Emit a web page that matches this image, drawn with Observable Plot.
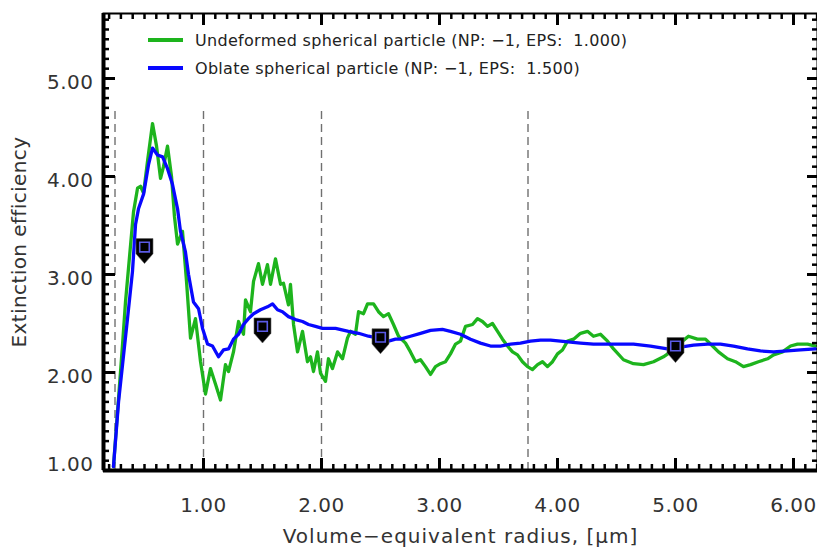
<!DOCTYPE html>
<html>
<head>
<meta charset="utf-8">
<script src="https://cdn.jsdelivr.net/npm/d3@7"></script>
<script src="https://cdn.jsdelivr.net/npm/@observablehq/plot@0.6"></script>
<style>
  html, body { margin: 0; padding: 0; background: #fff; overflow: hidden; }
  #wrap { position: relative; width: 817px; height: 553px; }
  #legend { position: absolute; left: 148px; top: 26px; font-family: "DejaVu Sans", sans-serif; font-size: 16px; color: #222; letter-spacing: 0.3px; }
  .row { display: flex; align-items: center; height: 28px; white-space: pre; }
  .swatch { width: 35px; height: 3.5px; margin-right: 12px; }
</style>
</head>
<body>
<div id="wrap"></div>
<script>
// ---- data ----
const seriesNames = [
  "Undeformed spherical particle (NP: \u22121, EPS:  1.000)",
  "Oblate spherical particle (NP: \u22121, EPS:  1.500)"
];
const seriesColors = ["#1db41d", "#0808ff"];

const greenX = [0.237,0.314,0.339,0.407,0.441,0.466,0.492,0.525,0.568,0.602,0.636,0.661,0.695,0.729,0.754,0.780,0.822,0.856,0.890,0.932,0.975,1.017,1.059,1.102,1.144,1.186,1.212,1.254,1.297,1.339,1.356,1.398,1.424,1.466,1.500,1.542,1.568,1.610,1.653,1.678,1.720,1.737,1.763,1.797,1.839,1.881,1.907,1.932,1.966,1.992,2.034,2.059,2.093,2.136,2.178,2.220,2.246,2.288,2.314,2.356,2.390,2.441,2.483,2.525,2.568,2.610,2.653,2.712,2.754,2.797,2.839,2.881,2.924,2.966,3.008,3.051,3.093,3.136,3.178,3.220,3.280,3.322,3.364,3.407,3.449,3.492,3.534,3.576,3.619,3.661,3.703,3.746,3.788,3.831,3.873,3.915,3.958,4.000,4.042,4.085,4.136,4.195,4.254,4.305,4.364,4.424,4.475,4.559,4.644,4.729,4.814,4.898,4.958,5.017,5.059,5.110,5.186,5.254,5.314,5.364,5.441,5.508,5.576,5.636,5.703,5.780,5.831,5.907,5.975,6.034,6.119,6.186];
const greenY = [1.04,2.29,2.72,3.64,3.88,3.90,3.83,4.15,4.54,4.31,3.98,4.10,4.31,4.00,3.59,3.31,3.44,2.93,2.35,2.55,2.11,1.78,2.04,1.88,1.72,2.08,2.01,2.21,2.52,2.39,2.74,2.62,2.93,3.11,2.90,3.10,2.90,3.16,2.90,2.91,2.69,2.90,2.49,2.21,2.42,2.11,2.16,2.01,2.21,1.99,1.91,2.14,2.04,2.21,2.14,2.35,2.42,2.39,2.62,2.60,2.70,2.70,2.62,2.57,2.60,2.49,2.37,2.30,2.21,2.11,2.13,2.06,1.98,2.06,2.09,2.11,2.19,2.29,2.32,2.47,2.49,2.55,2.52,2.47,2.50,2.42,2.34,2.27,2.21,2.18,2.11,2.06,2.03,2.08,2.11,2.06,2.11,2.19,2.23,2.32,2.34,2.40,2.42,2.37,2.39,2.32,2.24,2.13,2.09,2.08,2.11,2.16,2.21,2.29,2.32,2.37,2.34,2.34,2.27,2.21,2.14,2.11,2.06,2.08,2.11,2.14,2.18,2.21,2.27,2.29,2.29,2.27];

const blueX = [0.237,0.280,0.314,0.356,0.398,0.424,0.449,0.492,0.534,0.568,0.610,0.653,0.695,0.737,0.780,0.805,0.847,0.873,0.915,0.958,0.992,1.034,1.076,1.127,1.169,1.212,1.254,1.297,1.339,1.381,1.424,1.483,1.542,1.585,1.627,1.669,1.720,1.780,1.839,1.890,1.949,2.008,2.119,2.229,2.314,2.398,2.483,2.568,2.627,2.669,2.754,2.839,2.924,3.025,3.093,3.178,3.263,3.347,3.432,3.517,3.602,3.686,3.771,3.856,3.941,4.025,4.110,4.195,4.305,4.424,4.508,4.644,4.788,4.932,5.042,5.153,5.271,5.381,5.492,5.610,5.720,5.831,5.949,6.059,6.186];
const blueY = [1.04,1.70,2.08,2.55,3.03,3.51,3.67,3.82,4.12,4.29,4.22,4.20,4.08,3.92,3.67,3.44,3.23,3.00,2.72,2.65,2.45,2.29,2.27,2.16,2.23,2.24,2.34,2.39,2.49,2.55,2.60,2.64,2.67,2.70,2.64,2.62,2.57,2.54,2.52,2.49,2.47,2.45,2.45,2.42,2.40,2.37,2.35,2.32,2.34,2.34,2.37,2.40,2.43,2.44,2.42,2.39,2.34,2.30,2.27,2.27,2.29,2.30,2.32,2.33,2.33,2.32,2.31,2.30,2.29,2.29,2.29,2.29,2.27,2.24,2.26,2.28,2.29,2.29,2.27,2.24,2.22,2.21,2.22,2.23,2.24];

const markerX = [0.5, 1.5, 2.5, 5.0];
const markerY = [3.28, 2.47, 2.36, 2.27];

const dashX = [0.25, 1.0, 2.0, 3.75];
const dashTop = 4.71;

const xTickValues = [1, 2, 3, 4, 5, 6];
const yTickValues = [1, 2, 3, 4, 5];
const xTitle = "Volume\u2212equivalent radius, [\u03BCm]";
const yTitle = "Extinction efficiency";

// ---- build ----
const green = greenX.map((x, i) => ({x, y: greenY[i]}));
const blue = blueX.map((x, i) => ({x, y: blueY[i]}));
const markers = markerX.map((x, i) => ({x, y: markerY[i]}));

const W = 817, H = 553;
const mL = 103, mR = 0, mT = 13, mB = 83;
const fW = W - mL - mR, fH = H - mT - mB;
const xDomain = [0.1525, 6.2034];
const yDomain = [1.0, 5.663];
const xMinor = d3.range(2, 63).map(d => d / 10).filter(d => Math.abs(d - Math.round(d)) > 1e-6);
const yMinor = d3.range(11, 57).map(d => d / 10).filter(d => Math.abs(d - Math.round(d)) > 1e-6);
const fmt = d3.format(".2f");

const homePlate = {
  draw(ctx, size) {
    const r = Math.sqrt(size / Math.PI);
    ctx.moveTo(-r, -r);
    ctx.lineTo(r, -r);
    ctx.lineTo(r, 0.8 * r);
    ctx.lineTo(0, 1.95 * r);
    ctx.lineTo(-r, 0.8 * r);
    ctx.closePath();
  }
};

const tickCol = "#000";
const chart = Plot.plot({
  width: W, height: H,
  marginLeft: mL, marginRight: mR, marginTop: mT, marginBottom: mB,
  style: {fontFamily: "DejaVu Sans, sans-serif", fontSize: "20px", color: "#333", background: "#fff"},
  x: {domain: xDomain, axis: null},
  y: {domain: yDomain, axis: null},
  marks: [
    // dashed verticals
    Plot.ruleX(dashX, {x: d => d, y1: yDomain[0], y2: dashTop, stroke: "#707070", strokeWidth: 1.4, strokeDasharray: "8,5"}),
    // data
    Plot.line(green, {x: "x", y: "y", stroke: seriesColors[0], strokeWidth: 3.3, strokeLinejoin: "round"}),
    Plot.line(blue, {x: "x", y: "y", stroke: seriesColors[1], strokeWidth: 3.3, strokeLinejoin: "round"}),
    Plot.dot(markers, {x: "x", y: "y", symbol: homePlate, r: 8.5, fill: "#000", stroke: "#666", strokeWidth: 0.6}),
    Plot.dot(markers, {x: "x", y: "y", symbol: "square", r: 5.4, fill: "#000", stroke: "#5a5ae6", strokeWidth: 1.6}),
    // frame
    Plot.frame({stroke: "#000", strokeWidth: 2}),
    Plot.ruleX([xDomain[0]], {stroke: "#000", strokeWidth: 4}),
    Plot.ruleY([yDomain[0]], {stroke: "#000", strokeWidth: 4}),
    // ticks bottom/top
    Plot.tickX(xTickValues, {x: d => d, insetTop: fH - 12, stroke: tickCol, strokeWidth: 3}),
    Plot.tickX(xMinor, {x: d => d, insetTop: fH - 6, stroke: tickCol, strokeWidth: 2.5}),
    Plot.tickX(xTickValues, {x: d => d, insetBottom: fH - 12, stroke: tickCol, strokeWidth: 3}),
    Plot.tickX(xMinor, {x: d => d, insetBottom: fH - 6, stroke: tickCol, strokeWidth: 2.5}),
    // ticks left/right
    Plot.tickY(yTickValues, {y: d => d, insetRight: fW - 12, stroke: tickCol, strokeWidth: 3}),
    Plot.tickY(yMinor, {y: d => d, insetRight: fW - 6, stroke: tickCol, strokeWidth: 2.5}),
    Plot.tickY(yTickValues, {y: d => d, insetLeft: fW - 10, stroke: tickCol, strokeWidth: 3}),
    Plot.tickY(yMinor, {y: d => d, insetLeft: fW - 5, stroke: tickCol, strokeWidth: 2.5}),
    // tick labels
    Plot.text(xTickValues, {x: d => d, text: d => fmt(d), frameAnchor: "bottom", dy: 41, fill: "#333"}),
    Plot.text(yTickValues.filter(d => d > 1), {y: d => d, text: d => fmt(d), frameAnchor: "left", dx: -10, dy: 4.5, textAnchor: "end", fill: "#333"}),
    Plot.text(yTickValues.filter(d => d === 1), {y: d => d, text: d => fmt(d), frameAnchor: "left", dx: -10, dy: -6, textAnchor: "end", fill: "#333"}),
    // axis titles
    Plot.text([xTitle], {frameAnchor: "bottom", dy: 72, fill: "#333"}),
    Plot.text([yTitle], {frameAnchor: "left", rotate: -90, textAnchor: "middle", dx: -84, dy: 0, fill: "#333"})
  ]
});

// letter spacing to mimic the wide plotting font
d3.select(chart).selectAll("text").each(function () {
  const t = this.textContent;
  if (t === xTitle) this.style.letterSpacing = "1px";
  else if (t === yTitle) this.style.letterSpacing = "0.4px";
  else this.style.letterSpacing = "0.5px";
});

const wrap = document.getElementById("wrap");
wrap.appendChild(chart);
const legend = document.createElement("div");
legend.id = "legend";
seriesNames.forEach((name, i) => {
  const row = document.createElement("div");
  row.className = "row";
  const sw = document.createElement("div");
  sw.className = "swatch";
  sw.style.background = seriesColors[i];
  const t = document.createElement("span");
  t.textContent = name;
  row.appendChild(sw);
  row.appendChild(t);
  legend.appendChild(row);
});
wrap.appendChild(legend);
</script>
</body>
</html>
